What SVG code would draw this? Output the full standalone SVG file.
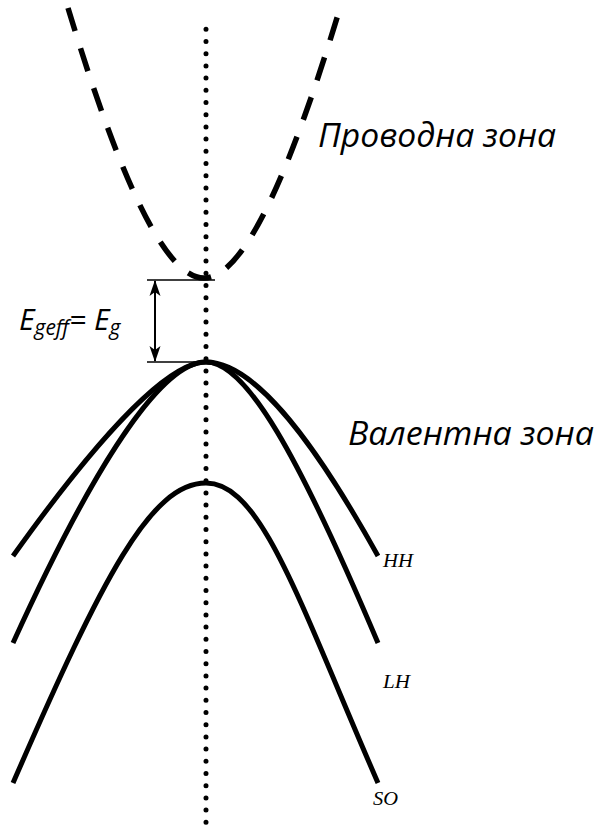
<svg xmlns="http://www.w3.org/2000/svg" width="595" height="830" viewBox="0 0 595 830">
<style>
.band{fill:none;stroke:#000;stroke-width:5;stroke-linecap:butt}
.cb{fill:none;stroke:#000;stroke-width:5.5;stroke-dasharray:24 18}
.axis{fill:none;stroke:#000;stroke-width:5;stroke-linecap:round;stroke-dasharray:0 12.2}
.thin{fill:none;stroke:#000;stroke-width:1.6}
.zone{font-family:"Open Sans","Noto Sans",sans-serif;font-style:italic;font-size:32px;fill:#000}
.eq{font-family:"Open Sans","Noto Sans",sans-serif;font-style:italic;font-size:30px;fill:#000}
.lbl{font-family:"Liberation Serif","Times New Roman",serif;font-style:italic;font-size:19px;fill:#000}
</style>
<defs>
<marker id="ah" viewBox="0 0 16 12" refX="15" refY="6" markerWidth="16" markerHeight="12" markerUnits="userSpaceOnUse" orient="auto-start-reverse">
<path d="M0,0.5 L16,6 L0,11.5 L4,6 Z" fill="#000"/>
</marker>
</defs>
<g id="axis"><line class="axis" x1="206" y1="29.3" x2="206" y2="828"/></g>
<g id="conduction-band"><path class="cb" d="M68,8 C118,173 164,278 204,278 C244,278 290,173 340,8"/></g>
<g id="HH"><path class="band" d="M13,556 C93,444 166,362 206,362 C251,362 308,430 378,556"/></g>
<g id="LH"><path class="band" d="M13,643 C103,445 166,362 206,362 C246,362 298,454 378,643"/></g>
<g id="SO"><path class="band" d="M13,783 C103,576 151,483 206,483 C261,483 298,599 378,783"/></g>
<g id="connectors">
<line class="thin" x1="147" y1="280" x2="215" y2="280"/>
<line class="thin" x1="147" y1="362" x2="206" y2="362"/>
<line x1="155" y1="281" x2="155" y2="361" stroke="#000" stroke-width="2" marker-start="url(#ah)" marker-end="url(#ah)"/>
</g>
<g id="labels">
<text class="zone" x="318" y="147" textLength="238" lengthAdjust="spacingAndGlyphs">Проводна зона</text>
<text class="zone" x="348" y="445" textLength="246" lengthAdjust="spacingAndGlyphs">Валентна зона</text>
<text class="eq" x="19" y="330">E<tspan font-size="21" dy="5">geff</tspan><tspan dy="-5">= E</tspan><tspan font-size="21" dy="5">g</tspan></text>
<text class="lbl" x="383" y="567" textLength="30" lengthAdjust="spacingAndGlyphs">HH</text>
<text class="lbl" x="383" y="688" textLength="27" lengthAdjust="spacingAndGlyphs">LH</text>
<text class="lbl" x="373" y="805" textLength="25" lengthAdjust="spacingAndGlyphs">SO</text>
</g>
</svg>
